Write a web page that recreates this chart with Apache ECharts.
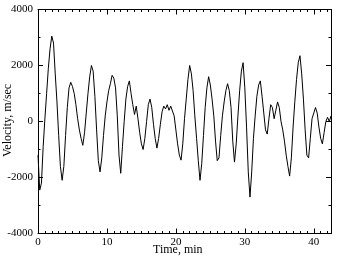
<!DOCTYPE html>
<html>
<head>
<meta charset="utf-8">
<script src="https://cdn.jsdelivr.net/npm/echarts@6/dist/echarts.min.js"></script>
<style>
html,body{margin:0;padding:0;background:#fff;}
#c{width:342px;height:257px;}
</style>
</head>
<body>
<div id="c"></div>
<script>
// Sampling step of the recorded series (minutes)
const timeStep = 0.25;
// Velocity values (m/sec), one per sample
const velocity = [
-1200,-2450,-2200,-900,100,1000,1900,2600,3050,2800,
1700,700,-500,-1600,-2100,-1600,-500,500,1200,1400,
1250,1000,600,100,-300,-600,-850,-400,300,1000,
1600,2000,1800,900,-300,-1400,-1800,-1300,-500,200,
700,1100,1350,1650,1550,1200,200,-1200,-1850,-900,
0,800,1250,1450,1000,600,250,550,100,-400,
-800,-1000,-600,0,600,800,500,-100,-600,-950,
-600,-100,350,550,450,600,400,550,600,200,
-300,-800,-1200,-1380,-800,100,800,1500,2000,1700,
1100,200,-600,-1400,-2100,-1500,-500,500,1200,1600,
1300,800,200,-700,-1400,-1300,-500,200,700,1100,
1350,1100,500,-700,-1450,-800,200,1100,1800,2100,
1200,-200,-1800,-2700,-1800,-600,200,900,1300,1450,
900,300,-300,-450,100,600,500,100,400,700,
500,0,-300,-700,-1200,-1600,-1950,-1300,-200,700,
1500,2100,2350,1700,800,-300,-1200,-1300,-600,100,
300,500,300,-200,-600,-800,-400,0,150,0,
200
];
// Axis tick settings
const xTicks = [0, 10, 20, 30, 40];
const yTicks = [-4000, -2000, 0, 2000, 4000];

const data = velocity.map((v, i) => [i * timeStep, v]);

const chart = echarts.init(document.getElementById('c'), null, {renderer: 'canvas'});
const font = 'Liberation Serif';
const axisCommon = {
  axisLine: {show: true, onZero: false, lineStyle: {color: '#000', width: 1}},
  axisTick: {show: true, inside: true, length: 5, lineStyle: {color: '#000'}},
  minorTick: {show: true, splitNumber: 10, length: 2.5, lineStyle: {color: '#000'}},
  splitLine: {show: false},
  axisLabel: {color: '#000', fontFamily: font, fontSize: 11}
};
chart.setOption({
  animation: false,
  backgroundColor: '#fff',
  grid: {left: 38, right: 11, top: 9.5, bottom: 23.5},
  xAxis: [
    Object.assign({}, axisCommon, {type: 'value', min: 0, max: 42.5, interval: 10, position: 'bottom',
      axisLabel: Object.assign({}, axisCommon.axisLabel, {margin: 3, formatter: v => xTicks.includes(v) ? String(v) : ''})}),
    Object.assign({}, axisCommon, {type: 'value', min: 0, max: 42.5, interval: 10, position: 'top',
      axisLabel: {show: false}})
  ],
  yAxis: [
    Object.assign({}, axisCommon, {type: 'value', min: -4000, max: 4000, interval: 2000, position: 'left',
      minorTick: Object.assign({}, axisCommon.minorTick, {splitNumber: 2}),
      axisLabel: Object.assign({}, axisCommon.axisLabel, {margin: 5, formatter: v => yTicks.includes(v) ? String(v) : ''})}),
    Object.assign({}, axisCommon, {type: 'value', min: -4000, max: 4000, interval: 2000, position: 'right',
      minorTick: Object.assign({}, axisCommon.minorTick, {splitNumber: 2}),
      axisLabel: {show: false}})
  ],
  graphic: [
    {type: 'text', left: 153, top: 244, style: {text: 'Time, min', font: '12px "Liberation Serif"', fill: '#000'}},
    {type: 'text', x: 2, y: 157, rotation: Math.PI / 2, style: {text: 'Velocity, m/sec', font: '12px "Liberation Serif"', fill: '#000'}}
  ],
  series: [{
    type: 'line', data: data, xAxisIndex: 0, yAxisIndex: 0,
    showSymbol: false, symbol: 'none',
    lineStyle: {color: '#000', width: 1}
  }]
});
</script>
</body>
</html>
